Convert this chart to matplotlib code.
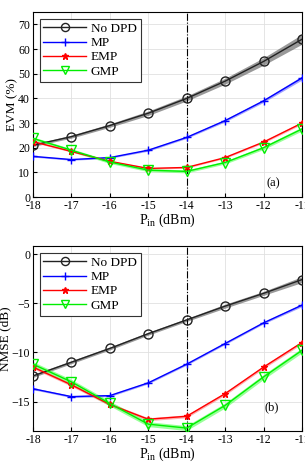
import matplotlib
matplotlib.use("Agg")
import matplotlib.pyplot as plt

plt.rcParams["font.family"] = ["Liberation Serif", "DejaVu Serif"]
plt.rcParams["mathtext.fontset"] = "custom"
plt.rcParams["mathtext.rm"] = "Liberation Serif"

# input power sweep
pin = [-18, -17, -16, -15, -14, -13, -12, -11]
labels = ["No DPD", "MP", "EMP", "GMP"]

# EVM (%) per model
evm_nodpd = [21, 24.5, 29, 34, 40, 47, 55, 64]
evm_mp = [16.5, 15.2, 16, 19, 24.2, 31, 39, 48.3]
evm_emp = [22.5, 18.5, 14.5, 11.6, 12, 16, 22.3, 30]
evm_gmp = [23.8, 19, 14.2, 10.9, 10.4, 14, 20, 27.6]
# spread of the shaded bands
evm_band = [[0.5, 0.6, 0.7, 0.9, 1.0, 1.2, 1.5, 2.0],
            [0.3, 0.3, 0.3, 0.4, 0.4, 0.5, 0.6, 0.8],
            [0.3, 0.3, 0.3, 0.3, 0.3, 0.3, 0.4, 0.5],
            [0.6, 0.6, 0.6, 0.6, 0.6, 0.6, 0.7, 0.8]]

# NMSE (dB) per model
nmse_nodpd = [-12.4, -11, -9.6, -8.1, -6.7, -5.3, -4, -2.6]
nmse_mp = [-13.7, -14.5, -14.4, -13.1, -11.2, -9.1, -7, -5.2]
nmse_emp = [-11.5, -13.3, -15.3, -16.8, -16.5, -14.2, -11.5, -9]
nmse_gmp = [-11.2, -13, -15.2, -17.3, -17.7, -15.4, -12.5, -9.8]
nmse_band = [[0.15, 0.15, 0.15, 0.15, 0.15, 0.2, 0.2, 0.3],
             [0.1, 0.1, 0.1, 0.1, 0.1, 0.1, 0.1, 0.15],
             [0.15, 0.15, 0.15, 0.15, 0.15, 0.15, 0.15, 0.15],
             [0.25, 0.25, 0.25, 0.25, 0.25, 0.25, 0.25, 0.25]]

colors = ["#222222", "#0000ff", "#ff0000", "#00ee00"]
bandcolors = ["#555555", "#6666ff", "#ff7777", "#55ff55"]
markers = ["o", "+", "*", "v"]
msizes = [6.5, 6, 5, 7]

fig = plt.figure(figsize=(3.05, 4.68), dpi=100)
ax1 = fig.add_axes([0.108, 0.579, 0.882, 0.395])
ax2 = fig.add_axes([0.108, 0.079, 0.882, 0.395])

def draw(ax, series, bands):
    for i, ys in enumerate(series):
        lo = [y - b for y, b in zip(ys, bands[i])]
        hi = [y + b for y, b in zip(ys, bands[i])]
        ax.fill_between(pin, lo, hi, color=bandcolors[i], alpha=0.6, linewidth=0, zorder=2)
        face = "none" if markers[i] in ("o", "v") else colors[i]
        ax.plot(pin, ys, color=colors[i], marker=markers[i], markersize=msizes[i],
                markerfacecolor=face, markeredgecolor=colors[i], linewidth=1,
                label=labels[i], zorder=3)
    ax.axvline(-14, color="k", linestyle="-.", linewidth=0.8, zorder=2)
    ax.set_xlim(-18, -11)
    ax.set_xticks(pin)
    ax.set_xticklabels([str(p) for p in pin])
    ax.grid(True, color="#e0e0e0", linewidth=0.6)
    ax.set_axisbelow(True)
    ax.tick_params(labelsize=8.5, direction="in", length=3, pad=2)
    ax.set_xlabel(r"P$_{\mathrm{in}}$ (dBm)", fontsize=10, labelpad=0)
    leg = ax.legend(loc="upper left", fontsize=9.5, fancybox=False, framealpha=1,
                    edgecolor="#333333", handlelength=3.2, borderpad=0.3,
                    labelspacing=0.15, handletextpad=0.4, markerscale=0.9)
    leg.get_frame().set_linewidth(0.8)
    for s in ax.spines.values():
        s.set_linewidth(0.8)

draw(ax1, [evm_nodpd, evm_mp, evm_emp, evm_gmp], evm_band)
ax1.set_ylim(0, 75)
ax1.set_yticks(range(0, 71, 10))
ax1.set_ylabel("EVM (%)", fontsize=9.5, labelpad=0)
ax1.text(-11.75, 5.7, "(a)", fontsize=9, ha="center", va="center")

draw(ax2, [nmse_nodpd, nmse_mp, nmse_emp, nmse_gmp], nmse_band)
ax2.set_ylim(-18, 0.8)
ax2.set_yticks([-15, -10, -5, 0])
ax2.set_ylabel("NMSE (dB)", fontsize=9.5, labelpad=0)
ax2.text(-11.8, -15.6, "(b)", fontsize=9, ha="center", va="center")

fig.savefig("out.png", dpi=100)
